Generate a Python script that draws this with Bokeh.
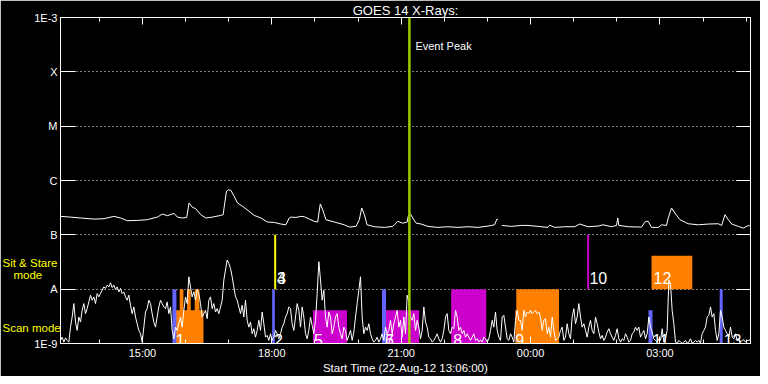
import numpy as np
from bokeh.plotting import figure
from bokeh.models import FixedTicker, LinearAxis, LogAxis, Span, Label, ColumnDataSource
from bokeh.core.properties import value
from bokeh.embed import file_html
from bokeh.resources import INLINE

# ---------------- data ----------------
# time in hours since 00:00 on 22-Aug-12 (plot spans 13:06 -> 05:06 next day)
t_start, t_end = 13.1, 29.1
event_peak_time = 21.19

# GOES long channel (1-8 A), flux in nW/m^2 (NaN = data gap)
long_times = [13.100, 13.332, 13.565, 13.874, 14.107, 14.339, 14.494, 14.649, 14.881, 15.113,
              15.345, 15.462, 15.578, 15.733, 15.810, 15.926, 16.027, 16.081, 16.158, 16.236,
              16.352, 16.468, 16.623, 16.817, 16.871, 16.948, 16.995, 17.049, 17.126, 17.204,
              17.320, 17.475, 17.591, 17.746, 17.901, 18.055, 18.210, 18.326, 18.404,
              18.443, 18.559, 18.675, 18.753, 18.869, 18.985, 19.062, 19.124, 19.179, 19.256,
              19.450, 19.682, 19.798, 19.953, 20.030, 20.085, 20.146, 20.208, 20.379, 20.611,
              20.805, 20.921, 21.037, 21.137, 21.168, 21.215, 21.269, 21.347, 21.463, 21.618,
              21.850, 22.082, 22.314, 22.547, 22.779, 23.011, 23.166, 23.220, 23.243, 23.290,
              23.336, 23.553, 23.785,
              23.940, 24.172, 24.404, 24.443, 24.559, 24.792, 25.024, 25.140, 25.334, 25.566,
              25.682, 25.876, 25.992, 26.023, 26.046, 26.263, 26.572, 26.665, 26.727, 26.805,
              26.960, 27.037, 27.153, 27.192, 27.269, 27.347, 27.463, 27.656, 27.889, 28.121,
              28.353, 28.431, 28.508, 28.586, 28.663, 28.818, 28.934, 29.050, 29.100]
long_nw = [219, 212, 204, 195, 198, 219, 204, 182, 184, 190,
           212, 241, 225, 248, 212, 204, 209, 386, 321, 303,
           235, 204, 212, 228, 235, 634, 671, 662, 513, 386,
           335, 270, 228, 204, 172, 169, 158, 153, 204,
           212, 209, 219, 215, 195, 177, 172, 370, 290, 190,
           172, 153, 139, 143, 190, 312, 235, 153, 141, 137,
           143, 177, 164, 172, 228, 241, 204, 164, 158, 143,
           137, 141, 137, 141, 137, 145, 153, 195, 190, float("nan"),
           149, 143, 149,
           149, 143, 137, 151, 137, 141, 141, 158, 141, 145,
           153, 141, 149, 204, 149, 141, 139, 177, 177, 137,
           137, 153, 149, 204, 312, 252, 190, 160, 153, 158,
           160, 149, 235, 190, 158, 143, 133, 149, 143]

# GOES short channel (0.5-4 A), flux in nW/m^2, regular cadence over the plot span
short_nw = [
    1.14, 1.31, 1.06, 1.27, 1.14, 1.06, 2.0, 3.07, 5.43, 2.48,
    1.74, 3.07, 2.48, 4.08, 5.43, 3.54, 4.38, 5.83, 7.74, 6.26,
    7.21, 5.43, 8.31, 7.21, 8.31, 9.58, 11.0, 10.3, 11.9, 11.0,
    13.1, 10.7, 11.9, 9.85, 11.0, 8.93, 10.3, 8.31, 8.93, 7.21,
    6.26, 7.74, 5.05, 3.54, 4.71, 3.07, 2.31, 1.74, 1.51, 1.06,
    2.0, 3.80, 4.38, 6.26, 5.43, 3.54, 2.48, 2.0, 3.07, 4.71,
    6.26, 5.43, 4.71, 4.38, 5.83, 3.54, 4.71, 1.74, 1.22, 2.0,
    1.74, 2.31, 3.07, 2.0, 4.08, 7.21, 5.43, 16.9, 11.0, 7.21,
    8.93, 6.26, 9.85, 8.31, 5.43, 3.07, 3.54, 4.08, 2.86, 6.26,
    7.21, 4.38, 5.43, 3.80, 4.38, 3.54, 4.71, 6.26, 14.7, 22.5,
    34.4, 29.9, 24.1, 16.9, 11.0, 7.21, 6.26, 4.71, 3.54, 5.05,
    3.07, 6.26, 2.67, 2.0, 2.48, 1.51, 1.87, 1.31, 1.74, 2.67,
    1.74, 3.80, 2.31, 1.31, 1.41, 1.14, 1.51, 1.14, 1.31, 1.74,
    1.51, 1.22, 1.51, 2.0, 2.31, 3.07, 3.54, 4.71,
    4.38, 2.31, 1.74, 3.07, 5.43, 4.08, 2.0, 4.71, 3.07, 1.51,
    1.22, 1.74, 3.07, 2.15, 1.51, 2.67, 8.31, 32.1, 14.7, 6.26,
    9.58, 3.07, 2.0, 3.80, 3.07, 1.51, 2.0, 3.07, 3.54, 2.0,
    1.51, 1.22, 2.0, 1.74, 1.14, 1.41, 1.74, 1.14, 1.62, 3.07,
    5.43, 9.58, 16.9, 3.07, 1.51, 2.0, 1.74, 2.31, 1.51, 1.22,
    1.06, 1.14, 1.31, 1.06, 1.22, 1.51, 1.14, 2.0, 1.51, 1.74,
    2.67, 1.51, 2.31, 3.07, 4.08, 2.0, 2.67, 1.31, 3.07, 1.51,
    7.74, 5.83, 3.07, 2.67, 3.54, 1.74, 2.67, 2.0, 1.22, 1.74,
    4.71, 2.48, 2.0, 1.31, 1.22, 1.06, 1.14, 1.31, 1.51, 1.22,
    1.06, 1.22, 1.74, 3.07, 3.54, 1.74, 1.51, 2.0, 1.87, 4.08,
    3.07, 1.74, 2.0, 1.51, 1.74, 1.31, 1.51, 1.31, 1.14, 1.31,
    1.51, 1.14, 1.22, 1.06, 1.17, 1.06, 1.31, 1.22, 1.06, 1.22,
    1.74, 2.67, 2.0, 3.80, 1.74, 1.31, 1.14, 3.07, 3.30, 2.0,
    1.22, 1.14, 1.51, 1.31, 1.06, 2.67, 4.08, 2.67,
    2.67, 1.74, 4.08, 3.07, 3.80, 3.54, 4.08, 3.54, 3.80, 4.08,
    3.54, 3.80, 3.07, 1.74, 2.67, 2.86, 1.51, 2.0, 1.31, 3.07,
    1.74, 1.14, 1.22, 1.31, 1.74, 2.0, 1.14, 1.31, 2.31, 1.51,
    1.22, 3.07, 4.38, 2.31, 3.07, 5.43, 3.07, 2.0, 2.31, 1.74,
    1.31, 2.0, 2.67, 1.74, 1.51, 3.07, 2.31, 1.62, 1.22, 1.41,
    1.14, 1.31, 1.62, 1.87, 1.51, 1.31, 1.14, 1.41, 1.87, 1.22,
    1.06, 1.22, 1.14, 1.51, 1.31, 1.06, 1.14, 1.51, 1.62, 2.0,
    1.74, 2.0, 1.31, 1.51, 1.74, 1.22, 1.51, 3.07, 2.0, 1.62,
    1.22, 1.14, 1.06, 1.22, 1.14, 1.87, 1.06, 1.22, 1.74, 14.7,
    12.7, 4.08, 2.31, 1.06, 1.01, 1.14, 1.06, 1.01, 1.06, 1.14,
    1.01, 1.06, 1.22, 1.01, 1.06, 1.14, 1.06, 1.14, 1.01, 1.51,
    1.74, 2.0, 3.07, 3.30, 4.71, 3.07, 3.54, 1.74, 1.14, 1.51,
    4.08, 3.07, 2.0, 1.74, 1.51, 1.31, 2.0, 1.31, 1.22, 1.51,
    1.14, 1.22, 1.06, 1.14, 1.17, 1.06, 1.14, 1.14, 1.17]

# observation blocks (W/m^2 extents)
blue_start = [15.695, 18.008, 20.556, 26.735, 28.385]
blue_end = [15.788, 18.070, 20.649, 26.828, 28.455]
blue_top = [1e-8, 1e-8, 1e-8, 4.1e-9, 1e-8]

orange_start = [15.755, 15.864, 16.034, 16.213, 23.646, 23.669, 26.805]
orange_end = [16.415, 15.950, 16.120, 16.322, 24.000, 24.661, 27.750]
orange_bottom = [1e-9, 1e-9, 1e-9, 1e-9, 1e-9, 1e-9, 1e-8]
orange_top = [4.1e-9, 1e-8, 1e-8, 1e-8, 4.1e-9, 1e-8, 4.1e-8]

magenta_start = [18.954, 20.626, 22.159]
magenta_end = [19.743, 21.416, 22.972]
magenta_top = [4.1e-9, 4.1e-9, 1e-8]

stare_times = [18.078, 25.335]
stare_colors = ["#ffff00", "#cc00cc"]
stare_bottom = [1e-8, 1e-8]
stare_top = [1e-7, 1e-7]

label_texts = ["1", "2", "3", "4", "5", "6", "7", "8", "9", "10", "11", "12", "13"]
label_times = [15.771, 18.048, 18.118, 18.118, 18.977, 20.626, 20.626, 22.206, 23.646,
               25.365, 26.828, 26.852, 28.478]
label_levels = [1.14e-9, 1.14e-9, 1.6e-8, 1.6e-8, 1.14e-9, 1.14e-9, 1.14e-9, 1.14e-9,
                1.14e-9, 1.6e-8, 1.14e-9, 1.6e-8, 1.14e-9]

mode_texts = ["Sit & Stare", "mode", "Scan mode"]
mode_levels = [3.03e-8, 1.82e-8, 1.9e-9]

y_ticks = [1e-9, 1e-8, 1e-7, 1e-6, 1e-5, 1e-4, 1e-3]
y_labels = ["1E-9", "A", "B", "C", "M", "X", "1E-3"]
x_ticks = [15, 18, 21, 24, 27]
x_labels = ["15:00", "18:00", "21:00", "00:00", "03:00"]
x_minor = [14, 16, 17, 19, 20, 22, 23, 25, 26, 28, 29]

# ---------------- figure ----------------
FONT = "Liberation Sans"
p = figure(width=760, height=376, x_range=(t_start, t_end), y_range=(1e-9, 1e-3),
           y_axis_type="log", output_backend="svg", toolbar_location=None,
           background_fill_color="black", border_fill_color="black",
           min_border_left=60, min_border_right=10, min_border_bottom=33, min_border_top=11,
           outline_line_color="white")

p.title.text = "GOES 14 X-Rays:"
p.title.align = "center"
p.title.text_color = "white"
p.title.text_font = FONT
p.title.text_font_size = "13px"
p.title.text_font_style = "normal"
p.title.standoff = 0

# bottom axis
xa = p.xaxis[0]
xa.ticker = FixedTicker(ticks=x_ticks, minor_ticks=x_minor)
xa.major_label_overrides = dict(zip(x_ticks, x_labels))
xa.axis_label = "Start Time (22-Aug-12 13:06:00)"
xa.axis_line_color = "white"
xa.major_tick_line_color = "white"
xa.minor_tick_line_color = "white"
xa.major_tick_in = 7
xa.major_tick_out = 0
xa.minor_tick_in = 4
xa.minor_tick_out = 0
xa.major_label_text_color = "white"
xa.major_label_text_font = FONT
xa.major_label_text_font_size = "11px"
xa.major_label_standoff = 3
xa.axis_label_text_color = "white"
xa.axis_label_text_font = FONT
xa.axis_label_text_font_size = "11.5px"
xa.axis_label_text_font_style = "normal"
xa.axis_label_standoff = 0

# top axis (ticks only, labels not drawn)
top = LinearAxis(ticker=FixedTicker(ticks=x_ticks, minor_ticks=x_minor),
                 major_label_text_font_size="1px", major_label_text_color=None,
                 major_label_standoff=0,
                 axis_line_color="white", major_tick_line_color="white",
                 minor_tick_line_color="white", major_tick_in=7, major_tick_out=0,
                 minor_tick_in=4, minor_tick_out=0)
p.add_layout(top, "above")

# left axis
ya = p.yaxis[0]
ya.ticker = FixedTicker(ticks=y_ticks, minor_ticks=[])
ya.major_label_overrides = dict(zip(y_ticks, y_labels))
ya.axis_line_color = "white"
ya.major_tick_line_color = "white"
ya.major_tick_in = 15
ya.major_tick_out = 0
ya.minor_tick_line_color = None
ya.major_label_text_color = "white"
ya.major_label_text_font = FONT
ya.major_label_text_font_size = "11px"
ya.major_label_standoff = 3

# right axis (ticks only, labels not drawn)
right = LogAxis(ticker=FixedTicker(ticks=y_ticks, minor_ticks=[]),
                major_label_text_font_size="1px", major_label_text_color=None,
                major_label_standoff=0,
                axis_line_color="white", major_tick_line_color="white",
                minor_tick_line_color=None, major_tick_in=14, major_tick_out=0)
p.add_layout(right, "right")

p.xgrid.visible = False
p.ygrid.grid_line_color = "white"
p.ygrid.grid_line_dash = "1 3"
p.ygrid.grid_line_width = 1

# observation blocks
p.quad(left=orange_start, right=orange_end, bottom=orange_bottom, top=orange_top,
       fill_color="#ff8000", line_color=None)
p.quad(left=magenta_start, right=magenta_end, bottom=[1e-9] * len(magenta_start),
       top=magenta_top, fill_color="#cc00cc", line_color=None)
p.quad(left=blue_start, right=blue_end, bottom=[1e-9] * len(blue_start), top=blue_top,
       fill_color="#6464ff", line_color=None)
p.segment(x0=stare_times, y0=stare_bottom, x1=stare_times, y1=stare_top,
          line_color=stare_colors, line_width=2)

# light curves
short_times = np.linspace(t_start, t_end, len(short_nw))
p.line(short_times, np.array(short_nw) * 1e-9, line_color="white", line_width=1)
p.line(long_times, np.array(long_nw) * 1e-9, line_color="white", line_width=1)

# block numbers
src = ColumnDataSource(dict(x=label_times, y=label_levels, t=label_texts))
p.text(x="x", y="y", text="t", source=src, text_color="white",
       text_font=value(FONT), text_font_size="16px", text_baseline="alphabetic",
       text_align="left")

# event peak
p.add_layout(Span(location=event_peak_time, dimension="height",
                  line_color="#9acd00", line_width=2.5))
p.add_layout(Label(x=event_peak_time, y=3.0e-4, x_offset=6, text="Event Peak",
                   text_color="white", text_font=FONT, text_font_size="11px",
                   text_baseline="alphabetic"))

# mode annotations in the left margin (overlay level so they are drawn outside the frame)
mode_src = ColumnDataSource(dict(x=[t_start] * len(mode_texts), y=mode_levels, t=mode_texts,
                                 dx=[-58, -47, -58]))
p.text(x="x", y="y", text="t", source=mode_src, x_offset="dx",
       text_color="#ffff00", text_font=value(FONT), text_font_size="11.5px",
       text_baseline="alphabetic", text_align="left", level="overlay")

open("out.html", "w").write(file_html(p, INLINE))
